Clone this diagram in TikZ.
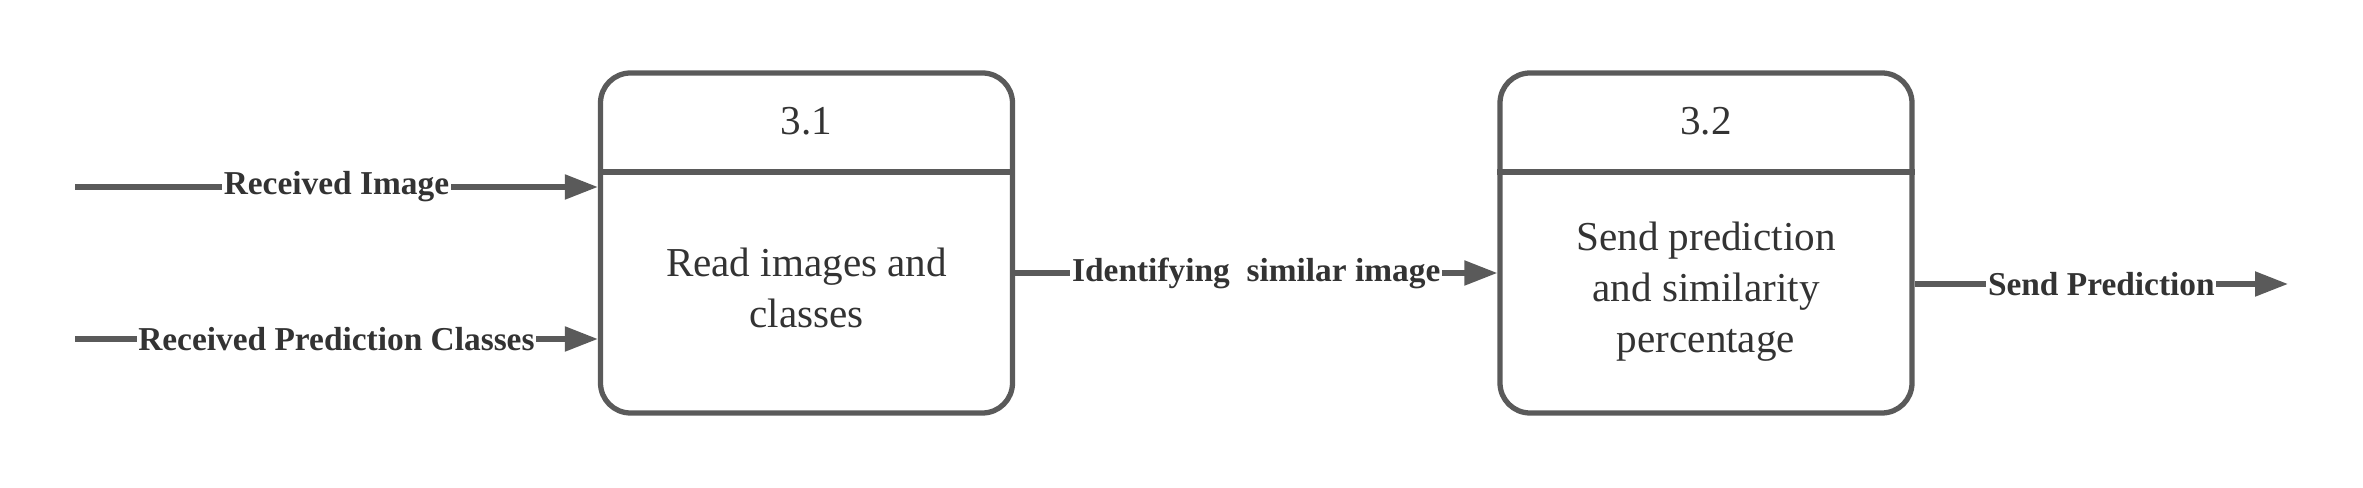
\documentclass[tikz,border=0pt]{standalone}
\usepackage{fontspec}
\setmainfont{Liberation Serif}
\usetikzlibrary{arrows.meta}
\definecolor{linegray}{HTML}{5A5A5A}
\definecolor{textgray}{HTML}{333333}

\begin{document}
\begin{tikzpicture}[
    proc/.style={draw=linegray, line width=1.5pt, rounded corners=0.3cm,
      minimum width=4.12cm, minimum height=3.4cm},
    flow/.style={draw=linegray, line width=1.5pt,
      -{Triangle[length=0.33cm,width=0.24cm]}},
    lbl/.style={fill=white, inner sep=0.5pt, text=textgray,
      font=\bfseries\fontsize{9.5}{11}\selectfont},
    txt/.style={text=textgray, align=center,
      font=\fontsize{11.7}{14.5}\selectfont}
  ]
    \useasboundingbox (0,0) rectangle (23.63,4.88);

    % Process boxes
    \node[proc] (p31) at (8.065,2.45) {};
    \node[proc] (p32) at (17.06,2.45) {};

    % Header dividers
    \draw[linegray, line width=1.5pt] (p31.west |- 0,3.16) -- (p31.east |- 0,3.16);
    \draw[linegray, line width=1.5pt] (p32.west |- 0,3.16) -- (p32.east |- 0,3.16);

    \node[txt] (h31) at (p31.north |- 0,3.67) {3.1};
    \node[txt] (h32) at (p32.north |- 0,3.67) {3.2};
    \node[txt] (b31) at (p31.center |- 0,2.0) {Read images and\\classes};
    \node[txt] (b32) at (p32.center |- 0,1.96) {Send prediction\\and similarity\\percentage};

    % Data flows
    \coordinate (in1) at (0.75,3.01);
    \coordinate (in2) at (0.75,1.49);
    \coordinate (out) at (22.88,2.04);

    \draw[flow] (in1) -- (in1 -| p31.west) node[midway, lbl] {Received Image};
    \draw[flow] (in2) -- (in2 -| p31.west) node[midway, lbl] {Received Prediction Classes};
    \draw[flow] (p31.east |- 0,2.15) -- (p32.west |- 0,2.15)
      node[midway, lbl] {Identifying\ \ similar image};
    \draw[flow] (p32.east |- out) -- (out) node[midway, lbl] {Send Prediction};

  \end{tikzpicture}
\end{document}
